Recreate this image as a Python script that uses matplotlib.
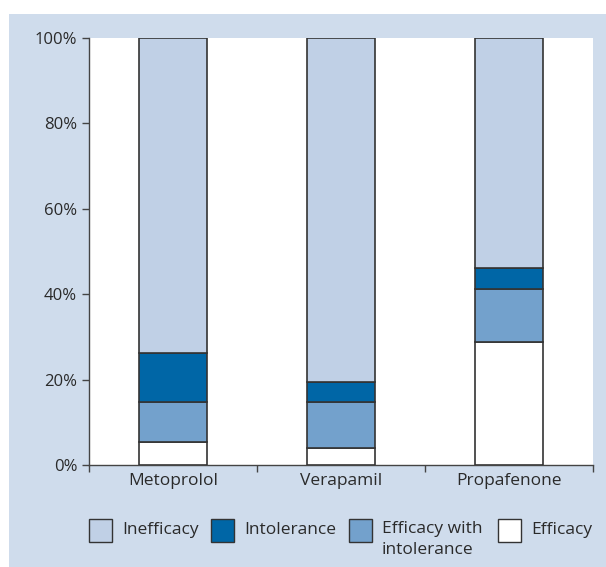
import matplotlib.pyplot as plt
from matplotlib.patches import Rectangle
import numpy as np

plt.rcParams["font.family"] = ["Open Sans", "DejaVu Sans"]

#### data (percent of patients)
drugs = ["Metoprolol", "Verapamil", "Propafenone"]
efficacy = [5.5, 4.0, 28.9]
efficacy_intol = [9.3, 10.8, 12.3]
intolerance = [11.4, 4.6, 4.9]
inefficacy = [73.8, 80.6, 53.9]

seg_names = ["Efficacy", "Efficacy with\nintolerance", "Intolerance", "Inefficacy"]
seg_colors = ["#ffffff", "#73a1cc", "#0066a6", "#c0d0e6"]

bg = "#cfdcec"
edge = "#333333"
txt = "#2a2a2a"

fig = plt.figure(figsize=(6.06, 5.67), dpi=100)
fig.patch.set_facecolor("white")
fig.patches.append(Rectangle((9 / 606, 0), 1, 1 - 14 / 567, transform=fig.transFigure,
                             facecolor=bg, edgecolor="none", zorder=-10))

ax = fig.add_axes([89 / 606, (567 - 465) / 567, (593 - 89) / 606, (465 - 38) / 567])
ax.set_facecolor("white")

x = np.arange(len(drugs))
bottom = np.zeros(len(drugs))
for vals, col in zip([efficacy, efficacy_intol, intolerance, inefficacy], seg_colors):
    ax.bar(x, vals, width=0.4, bottom=bottom, color=col, edgecolor=edge, linewidth=1.2, zorder=3)
    bottom += np.array(vals)

ax.set_xlim(-0.5, 2.5)
ax.set_ylim(0, 100)
ax.set_yticks(np.arange(0, 101, 20))
ax.set_yticklabels([f"{v}%" for v in range(0, 101, 20)], fontsize=12, color=txt)
ax.set_xticks([-0.5, 0.5, 1.5, 2.5])
ax.set_xticklabels([])
ax.set_xticks(x, minor=True)
ax.set_xticklabels(drugs, minor=True, fontsize=12.5, color=txt)
ax.tick_params(axis="x", which="minor", length=0, pad=6)
ax.tick_params(axis="both", which="major", length=5, width=1, color="#444444")

for s in ["top", "right"]:
    ax.spines[s].set_visible(False)
for s in ["left", "bottom"]:
    ax.spines[s].set_color("#444444")
    ax.spines[s].set_linewidth(1)

## legend drawn by hand so the box sits on the first text line
leg_order = [3, 2, 1, 0]
leg_x = [89, 211, 349, 498]
box = 23
y_top = 519
for i, px in zip(leg_order, leg_x):
    fig.patches.append(Rectangle((px / 606, 1 - (y_top + box) / 567), box / 606, box / 567,
                                 transform=fig.transFigure, facecolor=seg_colors[i],
                                 edgecolor=edge, linewidth=1))
    if "\n" in seg_names[i]:
        fig.text((px + box + 10) / 606, 1 - (y_top + 2) / 567, seg_names[i],
                 fontsize=12.5, color=txt, va="top", ha="left", linespacing=1.45)
    else:
        fig.text((px + box + 10) / 606, 1 - (y_top + box / 2) / 567, seg_names[i],
                 fontsize=12.5, color=txt, va="center", ha="left")

plt.savefig("out.png", dpi=100)
